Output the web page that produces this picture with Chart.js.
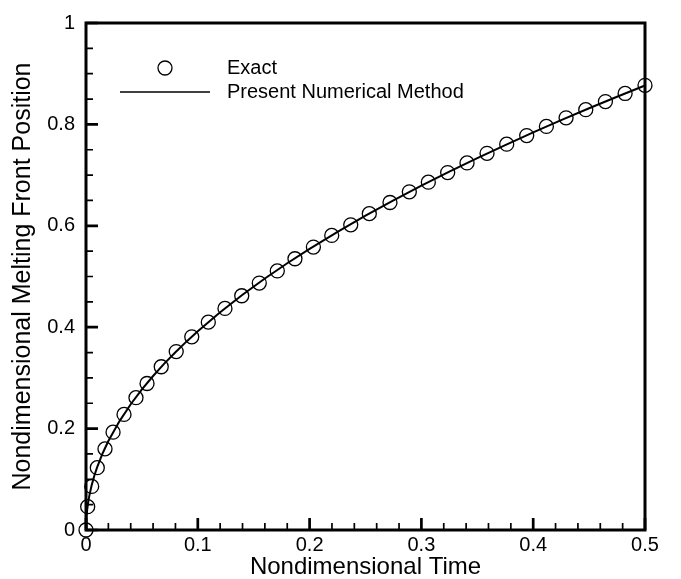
<!DOCTYPE html>
<html><head><meta charset="utf-8">
<script src="https://cdn.jsdelivr.net/npm/chart.js@4.4.1/dist/chart.umd.min.js"></script>
<style>html,body{margin:0;padding:0;background:#fff;}canvas{display:block;}</style>
</head><body>
<canvas id="c" width="681" height="579"></canvas>
<script>
const exactTime = [0, 0.0015, 0.0051, 0.0101, 0.017, 0.0242, 0.034, 0.0447, 0.0546, 0.0673, 0.0807, 0.0946, 0.1094, 0.1243, 0.1393, 0.155, 0.1711, 0.1869, 0.2034, 0.2198, 0.2368, 0.2534, 0.2719, 0.2892, 0.3062, 0.3235, 0.3408, 0.3587, 0.3763, 0.3942, 0.4118, 0.4294, 0.447, 0.4646, 0.4822, 0.5];
const exactPosition = [0, 0.046, 0.086, 0.123, 0.160, 0.193, 0.228, 0.261, 0.289, 0.322, 0.352, 0.381, 0.410, 0.437, 0.462, 0.487, 0.511, 0.535, 0.558, 0.581, 0.602, 0.624, 0.646, 0.667, 0.686, 0.705, 0.724, 0.743, 0.761, 0.778, 0.796, 0.813, 0.829, 0.845, 0.861, 0.877];
const numTime = [0, 0.0005, 0.001, 0.002, 0.003, 0.005, 0.0075, 0.01, 0.015, 0.02, 0.03, 0.04, 0.05, 0.06, 0.07, 0.08, 0.09, 0.1, 0.12, 0.14, 0.16, 0.18, 0.2, 0.225, 0.25, 0.275, 0.3, 0.325, 0.35, 0.375, 0.4, 0.425, 0.45, 0.475, 0.5];
const numPosition = [0, 0.0277, 0.0392, 0.0555, 0.0679, 0.0877, 0.1074, 0.124, 0.1519, 0.1754, 0.2148, 0.248, 0.2773, 0.3037, 0.3281, 0.3507, 0.372, 0.3921, 0.4296, 0.464, 0.496, 0.5261, 0.5545, 0.5882, 0.62, 0.6503, 0.6792, 0.7069, 0.7336, 0.7593, 0.7843, 0.8084, 0.8318, 0.8546, 0.8768];
const xTickValues = [0, 0.1, 0.2, 0.3, 0.4, 0.5];
const xTickLabels = ['0', '0.1', '0.2', '0.3', '0.4', '0.5'];
const yTickValues = [0, 0.2, 0.4, 0.6, 0.8, 1];
const yTickLabels = ['0', '0.2', '0.4', '0.6', '0.8', '1'];
const xMinorStep = 0.02;
const yMinorStep = 0.05;
const legendLabels = ['Exact', 'Present Numerical Method'];
const xTitle = 'Nondimensional Time';
const yTitle = 'Nondimensional Melting Front Position';

const FONT = "'Liberation Sans', Arial, Helvetica, sans-serif";

const framePlugin = {
  id: 'frame',
  afterDraw(chart) {
    const {ctx, chartArea: a, scales: {x, y}} = chart;
    ctx.save();
    ctx.strokeStyle = '#000';
    ctx.lineCap = 'butt';
    ctx.lineWidth = 1.7;
    ctx.beginPath();
    const nx = Math.round((x.max - x.min) / xMinorStep);
    for (let i = 0; i <= nx; i++) {
      const v = x.min + i * xMinorStep;
      if (xTickValues.some(t => Math.abs(t - v) < 1e-9)) continue;
      const px = x.getPixelForValue(v);
      ctx.moveTo(px, a.bottom); ctx.lineTo(px, a.bottom - 7);
    }
    const ny = Math.round((y.max - y.min) / yMinorStep);
    for (let i = 0; i <= ny; i++) {
      const v = y.min + i * yMinorStep;
      if (yTickValues.some(t => Math.abs(t - v) < 1e-9)) continue;
      const py = y.getPixelForValue(v);
      ctx.moveTo(a.left, py); ctx.lineTo(a.left + 7, py);
    }
    ctx.stroke();
    ctx.lineWidth = 2.7;
    ctx.beginPath();
    xTickValues.forEach(v => { const px = x.getPixelForValue(v); ctx.moveTo(px, a.bottom); ctx.lineTo(px, a.bottom - 12); });
    yTickValues.forEach(v => { const py = y.getPixelForValue(v); ctx.moveTo(a.left, py); ctx.lineTo(a.left + 12, py); });
    ctx.stroke();
    ctx.lineWidth = 3;
    ctx.strokeRect(a.left, a.top, a.right - a.left, a.bottom - a.top);
    // legend
    ctx.lineWidth = 1.3;
    ctx.beginPath();
    ctx.arc(165, 68, 7, 0, Math.PI * 2);
    ctx.stroke();
    ctx.lineWidth = 1.5;
    ctx.beginPath();
    ctx.moveTo(120, 92); ctx.lineTo(210, 92);
    ctx.stroke();
    ctx.fillStyle = '#000';
    ctx.font = '20px ' + FONT;
    ctx.textAlign = 'left';
    ctx.textBaseline = 'middle';
    ctx.fillText(legendLabels[0], 227, 68);
    ctx.fillText(legendLabels[1], 227, 92);
    ctx.restore();
  }
};

new Chart(document.getElementById('c'), {
  type: 'scatter',
  data: {
    datasets: [
      {
        label: legendLabels[0],
        data: exactTime.map((t, i) => ({x: t, y: exactPosition[i]})),
        showLine: false,
        pointStyle: 'circle',
        pointRadius: 7,
        pointBorderWidth: 1.3,
        pointBorderColor: '#000',
        pointBackgroundColor: 'rgba(0,0,0,0)',
        clip: false
      },
      {
        label: legendLabels[1],
        data: numTime.map((t, i) => ({x: t, y: numPosition[i]})),
        showLine: true,
        borderColor: '#000',
        borderWidth: 2,
        pointRadius: 0,
        tension: 0,
        clip: false
      }
    ]
  },
  options: {
    responsive: false,
    animation: false,
    devicePixelRatio: 1,
    layout: {padding: {left: 0, right: 36, top: 16, bottom: 0}},
    plugins: {legend: {display: false}, tooltip: {enabled: false}},
    scales: {
      x: {
        type: 'linear', min: 0, max: 0.5,
        grid: {display: false, drawTicks: false}, border: {display: false},
        afterBuildTicks: s => { s.ticks = xTickValues.map(v => ({value: v})); },
        afterFit: s => { s.height = 49; },
        ticks: {
          color: '#000', padding: 3, maxRotation: 0, autoSkip: false,
          font: {family: FONT, size: 20},
          callback: (v, i) => xTickLabels[i]
        },
        title: {display: true, text: xTitle, color: '#000', font: {family: FONT, size: 24, lineHeight: 1}, padding: {top: 0, bottom: 0}}
      },
      y: {
        type: 'linear', min: 0, max: 1,
        grid: {display: false, drawTicks: false}, border: {display: false},
        afterBuildTicks: s => { s.ticks = yTickValues.map(v => ({value: v})); },
        afterFit: s => { s.width = 86; },
        ticks: {
          color: '#000', padding: 11, autoSkip: false,
          font: {family: FONT, size: 20},
          callback: (v, i) => yTickLabels[i]
        },
        title: {display: true, text: yTitle, color: '#000', font: {family: FONT, size: 25, lineHeight: 1}, padding: {top: 11, bottom: 0}}
      }
    }
  },
  plugins: [framePlugin]
});
</script>
</body></html>
